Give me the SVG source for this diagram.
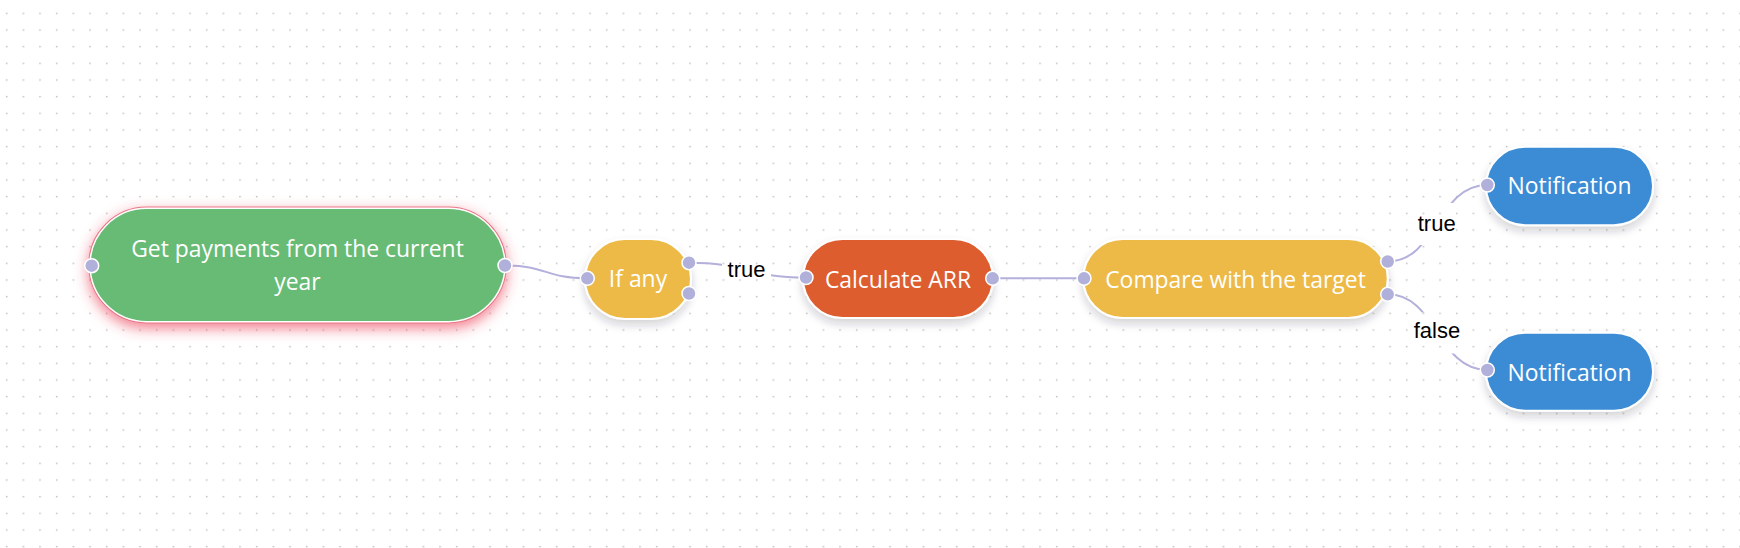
<svg xmlns="http://www.w3.org/2000/svg" width="1740" height="548" viewBox="0 0 1740 548">
  <defs>
    <pattern id="dots" patternUnits="userSpaceOnUse" x="0" y="0" width="16.667" height="16.667">
      <circle cx="6.7" cy="13.3" r="0.85" fill="#bdbdbd"/>
    </pattern>
    <filter id="shadow" x="-20%" y="-30%" width="140%" height="170%">
      <feDropShadow dx="0" dy="5" stdDeviation="4.5" flood-color="#1a2030" flood-opacity="0.2"/>
    </filter>
    <filter id="glow" x="-20%" y="-40%" width="140%" height="180%">
      <feDropShadow dx="0" dy="5" stdDeviation="7" flood-color="#ec3a52" flood-opacity="0.65"/>
    </filter>
    <mask id="labelMask" maskUnits="userSpaceOnUse" x="0" y="0" width="1740" height="548">
      <rect x="0" y="0" width="1740" height="548" fill="#fff"/>
      <rect x="722" y="249" width="49" height="42" fill="#000"/>
      <rect x="1412" y="203" width="49" height="42" fill="#000"/>
      <rect x="1408" y="312.5" width="58" height="41" fill="#000"/>
    </mask>
  </defs>
  <style>
    .node-text { font-family: "Open Sans", "Noto Sans", "Liberation Sans", sans-serif; font-size: 22.9px; fill: #ffffff; text-anchor: middle; }
    .label { font-family: "Liberation Sans", Arial, sans-serif; font-size: 22px; fill: #000000; text-anchor: middle; }
    .conn { fill: none; stroke: #b3b0dc; stroke-width: 2; }
    .port { fill: #b1b0da; stroke: #ffffff; stroke-width: 1.5; }
    .body { stroke: #ffffff; stroke-width: 2; }
  </style>

  <rect x="0" y="0" width="1740" height="548" fill="#ffffff"/>
  <rect x="0" y="0" width="1740" height="548" fill="url(#dots)"/>

  <g id="connectors">
    <g mask="url(#labelMask)">
      <path class="conn" d="M505,265.5 C546,265.5 546,278.3 587,278.3"/>
      <path class="conn" d="M689,262.7 C747,262.7 747,277.5 806,277.5"/>
      <path class="conn" d="M993,278.3 L1084,278.3"/>
      <path class="conn" d="M1387.7,261.5 C1437,261.5 1437,185 1487.3,185"/>
      <path class="conn" d="M1387.7,294.3 C1437,294.3 1437,370 1487.3,370"/>
    </g>
    <text class="label" x="746.5" y="276.7">true</text>
    <text class="label" x="1436.7" y="230.7">true</text>
    <text class="label" x="1437" y="338.3">false</text>
  </g>

  <g id="node-get-payments">
    <rect x="90" y="208.3" width="415" height="113.4" rx="56.7" fill="#67bb75" filter="url(#glow)" stroke="#ea7486" stroke-width="3.5"/>
    <rect x="90" y="208.3" width="415" height="113.4" rx="56.7" fill="#67bb75" stroke="#ffffff" stroke-width="1.5"/>
    <text class="node-text" x="297.5" y="256.7">Get payments from the current</text>
    <text class="node-text" x="297.5" y="290">year</text>
    <circle class="port" cx="91.7" cy="265.7" r="7"/>
    <circle class="port" cx="505" cy="265.5" r="7"/>
  </g>

  <g id="node-if-any">
    <rect class="body" x="585" y="239" width="106" height="80" rx="40" fill="#edba46" filter="url(#shadow)"/>
    <text class="node-text" x="638" y="287">If any</text>
    <circle class="port" cx="587.3" cy="278.3" r="7"/>
    <circle class="port" cx="689" cy="262.7" r="7"/>
    <circle class="port" cx="689" cy="293.5" r="7"/>
  </g>

  <g id="node-calculate-arr">
    <rect class="body" x="803" y="239" width="190" height="79" rx="39.5" fill="#dd5d2e" filter="url(#shadow)"/>
    <text class="node-text" x="898" y="288.3">Calculate ARR</text>
    <circle class="port" cx="806" cy="277.5" r="7"/>
    <circle class="port" cx="992.7" cy="278.3" r="7"/>
  </g>

  <g id="node-compare">
    <rect class="body" x="1083.3" y="239" width="304.4" height="79" rx="39.5" fill="#edba46" filter="url(#shadow)"/>
    <text class="node-text" x="1235.5" y="287.7">Compare with the target</text>
    <circle class="port" cx="1084" cy="278.3" r="7"/>
    <circle class="port" cx="1387.7" cy="261.5" r="7"/>
    <circle class="port" cx="1387.7" cy="294.3" r="7"/>
  </g>

  <g id="node-notification-true">
    <rect class="body" x="1486" y="146.7" width="167" height="78.5" rx="39.2" fill="#3a8cd5" filter="url(#shadow)"/>
    <text class="node-text" x="1569.5" y="194.3">Notification</text>
    <circle class="port" cx="1487.3" cy="185" r="7"/>
  </g>

  <g id="node-notification-false">
    <rect class="body" x="1486" y="332.7" width="167" height="78" rx="39" fill="#3a8cd5" filter="url(#shadow)"/>
    <text class="node-text" x="1569.5" y="381">Notification</text>
    <circle class="port" cx="1487.3" cy="370" r="7"/>
  </g>
</svg>
